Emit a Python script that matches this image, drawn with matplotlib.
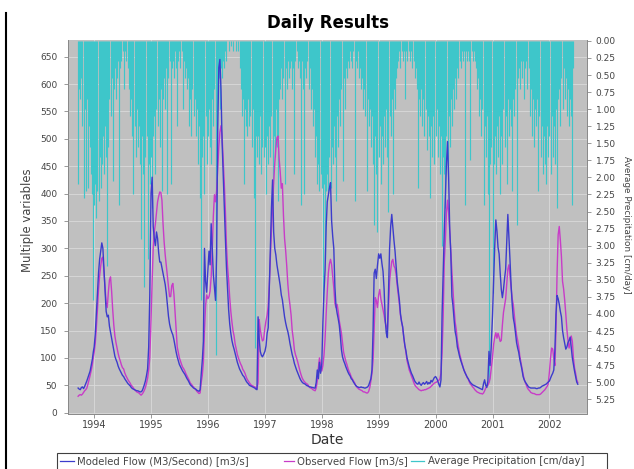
import numpy as np
import pandas as pd
import matplotlib
matplotlib.use("Agg")
import matplotlib.pyplot as plt
import matplotlib.dates as mdates
from matplotlib.lines import Line2D
from matplotlib.patches import Rectangle

# ---------------------------------------------------------------
# Weekly values, one list per calendar year (first list starts in
# late September 1993, the others on 1 January).
# ---------------------------------------------------------------
years = [1993, 1994, 1995, 1996, 1997, 1998, 1999, 2000, 2001, 2002]
year_start = {1993: "1993-09-20"}

modeled_1993 = [45, 43, 42, 46, 47, 44, 48, 53, 58, 64, 70, 76, 86, 97, 112]
observed_1993 = [30, 32, 33, 32, 34, 37, 40, 42, 45, 52, 60, 68, 77, 87, 102]
precip_1993 = [2.1, 0.7, 0.85, 0.55, 1.25, 2.3, 1.0, 2.2, 0.85, 2.15, 1.25, 1.55, 1.95, 2.25, 3.8]

modeled_1994 = [120, 143, 180, 215, 255, 280, 295, 310, 300, 262, 224, 185, 175, 178, 158, 147, 136, 125,
                114, 103, 97, 92, 85, 80, 76, 72, 68, 66, 62, 59, 56, 53, 51, 49, 46, 44, 43, 42, 41, 40,
                40, 39, 38, 38, 40, 45, 51, 58, 68, 80, 120, 215]
observed_1994 = [110, 127, 155, 188, 225, 250, 268, 282, 284, 255, 228, 200, 192, 220, 242, 248, 222, 188,
                 160, 140, 128, 118, 108, 100, 94, 87, 82, 80, 73, 68, 64, 60, 57, 54, 50, 48, 45, 42, 40,
                 38, 37, 36, 34, 32, 34, 37, 41, 46, 54, 63, 78, 100]
precip_1994 = [2.4, 2.1, 2.6, 2.2, 2.35, 1.7, 2.15, 1.8, 1.4, 1.95, 1.25, 1.7, 3.3, 1.55, 0.85, 1.1, 0.55,
               2.05, 0.7, 0.4, 0.85, 0.55, 0.3, 2.4, 0.4, 0.3, 0.15, 0.7, 0.15, 0.3, 0.0, 0.4, 0.7, 1.1,
               0.85, 1.4, 2.25, 1.25, 1.7, 1.0, 1.55, 1.25, 1.8, 2.9, 1.4, 1.95, 3.6, 1.7, 1.4, 3.2, 1.8, 2.1]

modeled_1995 = [400, 430, 340, 318, 305, 330, 318, 292, 275, 275, 265, 256, 246, 234, 218, 196, 176, 162,
                153, 147, 142, 133, 122, 111, 102, 95, 88, 84, 80, 76, 73, 70, 66, 62, 59, 55, 51, 49, 47,
                45, 44, 43, 41, 40, 39, 42, 70, 95, 130, 300, 240, 220]
observed_1995 = [170, 240, 300, 330, 345, 365, 385, 395, 403, 402, 388, 345, 312, 288, 268, 247, 230, 212,
                 212, 232, 236, 216, 186, 153, 120, 110, 100, 94, 88, 83, 80, 76, 71, 67, 63, 59, 54, 52,
                 49, 47, 44, 42, 39, 37, 35, 36, 55, 68, 92, 150, 195, 215]
precip_1995 = [1.7, 2.45, 1.4, 1.1, 1.95, 1.0, 1.25, 0.85, 1.55, 0.7, 2.2, 0.85, 0.55, 1.0, 0.4, 2.25, 0.55,
               0.3, 2.1, 0.4, 0.3, 0.55, 0.15, 0.4, 1.25, 0.3, 0.15, 0.4, 0.15, 1.0, 0.3, 0.55, 0.4, 0.7,
               0.55, 1.25, 0.85, 1.4, 0.7, 1.1, 0.85, 1.4, 1.0, 1.8, 1.25, 2.3, 3.8, 1.7, 1.4, 2.25, 1.1, 1.8]

modeled_1996 = [260, 295, 270, 345, 300, 252, 228, 205, 290, 520, 630, 645, 590, 495, 435, 380, 320, 266,
                225, 188, 162, 145, 132, 123, 116, 108, 100, 92, 86, 80, 76, 72, 68, 66, 62, 58, 55, 53,
                50, 49, 48, 47, 46, 45, 43, 42, 175, 135, 112, 105, 102, 106]
observed_1996 = [208, 212, 222, 248, 300, 360, 398, 385, 405, 445, 485, 512, 524, 505, 462, 420, 370, 306,
                 267, 242, 210, 185, 166, 150, 140, 125, 116, 106, 100, 94, 89, 85, 79, 76, 72, 66, 61,
                 58, 55, 52, 50, 49, 48, 47, 45, 44, 55, 170, 152, 140, 131, 133]
precip_1996 = [1.4, 1.0, 1.55, 1.8, 0.85, 1.25, 0.7, 4.6, 1.25, 0.85, 0.55, 1.0, 0.4, 0.55, 0.3, 0.4, 0.15,
               0.3, 0.0, 0.15, 0.0, 0.08, 0.0, 0.15, 0.0, 0.0, 0.15, 0.0, 0.15, 0.4, 0.7, 1.1, 0.85, 2.1,
               1.0, 1.25, 1.4, 0.85, 1.25, 1.1, 1.55, 1.0, 2.3, 4.5, 1.4, 1.7, 1.4, 1.8, 1.1, 1.95, 1.55, 1.7]

modeled_1997 = [112, 122, 145, 155, 230, 310, 375, 425, 330, 300, 288, 270, 258, 245, 232, 215, 206, 190,
                175, 164, 155, 148, 138, 126, 116, 106, 99, 90, 84, 78, 73, 68, 63, 59, 56, 54, 53, 52,
                50, 49, 48, 47, 47, 46, 46, 45, 45, 55, 78, 62, 92, 72]
observed_1997 = [155, 168, 178, 195, 232, 285, 335, 375, 420, 455, 482, 502, 505, 465, 440, 410, 418, 360,
                 318, 296, 268, 235, 212, 196, 178, 150, 135, 115, 106, 100, 93, 85, 77, 70, 64, 60, 57,
                 55, 53, 52, 49, 46, 45, 44, 42, 41, 40, 45, 58, 82, 100, 88]
precip_1997 = [1.55, 2.25, 1.4, 1.8, 1.25, 1.7, 1.1, 2.1, 1.4, 1.7, 1.0, 1.55, 2.35, 0.85, 0.7, 0.4, 0.85,
               0.55, 2.1, 0.4, 0.7, 0.3, 0.55, 0.4, 0.3, 0.7, 0.4, 1.95, 0.3, 0.15, 0.4, 0.3, 0.55, 2.4,
               0.3, 0.7, 2.25, 0.4, 0.55, 0.3, 0.7, 0.4, 1.0, 0.7, 1.25, 1.0, 1.7, 1.4, 2.1, 1.8, 2.2, 1.95]

modeled_1998 = [90, 165, 220, 260, 340, 385, 398, 410, 420, 350, 322, 300, 230, 195, 182, 172, 160, 140,
                115, 102, 95, 90, 84, 79, 74, 70, 67, 62, 60, 56, 53, 50, 48, 47, 46, 46, 47, 46, 46, 45,
                45, 46, 47, 50, 56, 62, 78, 150, 255, 262, 245, 268]
observed_1998 = [76, 86, 105, 135, 180, 220, 255, 272, 280, 270, 250, 228, 200, 192, 198, 186, 168, 157,
                 145, 127, 110, 102, 94, 88, 81, 75, 71, 65, 62, 58, 55, 50, 47, 45, 43, 42, 41, 40, 38,
                 38, 37, 36, 36, 39, 46, 58, 72, 95, 150, 210, 205, 192]
precip_1998 = [2.15, 3.8, 2.1, 3.2, 2.2, 1.95, 2.2, 1.7, 2.15, 1.55, 1.8, 1.25, 1.7, 2.35, 1.1, 1.55, 0.85,
               1.25, 0.7, 2.05, 0.55, 1.0, 0.4, 0.55, 0.3, 0.4, 0.15, 0.3, 0.4, 0.15, 2.35, 0.3, 0.4, 0.15,
               0.55, 0.4, 0.7, 0.55, 1.0, 0.7, 1.1, 2.2, 0.85, 1.25, 1.0, 1.55, 1.1, 1.8, 2.7, 1.4, 1.95, 2.8]

modeled_1999 = [290, 282, 290, 272, 258, 225, 170, 145, 137, 215, 300, 340, 362, 338, 315, 295, 268, 240,
                222, 205, 180, 166, 157, 138, 123, 113, 100, 92, 84, 78, 72, 68, 63, 58, 55, 53, 52, 56,
                52, 50, 53, 55, 52, 54, 57, 52, 55, 53, 59, 56, 60, 64]
observed_1999 = [215, 225, 208, 198, 188, 178, 165, 157, 152, 190, 240, 260, 276, 280, 268, 264, 252, 232,
                 215, 198, 178, 166, 155, 138, 122, 110, 95, 87, 78, 73, 67, 62, 56, 51, 48, 46, 44, 42,
                 41, 40, 41, 41, 42, 42, 43, 44, 45, 46, 48, 50, 52, 54]
precip_1999 = [1.7, 1.25, 2.1, 1.4, 1.8, 1.1, 1.55, 1.0, 1.7, 2.5, 1.1, 1.4, 0.85, 2.25, 0.7, 1.0, 0.55,
               0.4, 0.3, 0.15, 0.4, 0.15, 0.3, 0.15, 0.85, 0.15, 0.3, 0.0, 0.15, 0.3, 0.15, 0.4, 0.3, 0.55,
               0.4, 0.7, 2.15, 0.85, 1.1, 0.7, 1.25, 0.85, 1.4, 1.0, 1.6, 1.1, 1.4, 2.3, 1.25, 1.7, 1.1, 1.8]

modeled_2000 = [66, 63, 58, 52, 47, 60, 180, 255, 330, 390, 455, 495, 430, 335, 290, 212, 195, 170, 148,
                138, 120, 112, 103, 96, 90, 84, 78, 73, 69, 65, 62, 58, 55, 53, 51, 50, 49, 48, 47, 46,
                45, 44, 43, 42, 53, 60, 50, 46, 58, 112, 86, 118]
observed_2000 = [55, 56, 58, 59, 62, 72, 110, 175, 275, 315, 365, 388, 365, 332, 295, 258, 225, 190, 165,
                 152, 132, 120, 108, 100, 92, 85, 78, 74, 69, 64, 61, 56, 52, 50, 47, 45, 42, 40, 38, 37,
                 36, 35, 35, 34, 36, 40, 45, 48, 50, 55, 62, 80]
precip_2000 = [1.4, 1.0, 1.7, 1.25, 1.95, 1.4, 3.0, 1.7, 1.95, 2.45, 1.4, 1.95, 1.1, 1.55, 0.85, 1.25, 0.7,
               1.0, 0.55, 0.85, 0.4, 0.55, 0.3, 0.4, 0.15, 0.3, 0.15, 2.4, 0.15, 0.3, 0.15, 0.3, 1.75, 0.15,
               0.3, 0.15, 0.3, 0.4, 0.7, 0.55, 1.1, 0.85, 1.4, 1.0, 2.4, 1.25, 1.7, 1.1, 2.25, 5.0, 1.8, 1.55]

modeled_2001 = [180, 245, 305, 352, 332, 302, 290, 255, 225, 210, 225, 245, 262, 310, 362, 322, 278, 232,
                198, 173, 162, 146, 128, 118, 110, 97, 88, 78, 66, 60, 56, 53, 50, 47, 46, 45, 45, 45, 45,
                45, 44, 44, 45, 45, 46, 48, 49, 50, 51, 52, 54, 56]
observed_2001 = [102, 125, 138, 146, 136, 145, 138, 130, 132, 160, 183, 196, 208, 235, 262, 270, 250, 228,
                 208, 197, 178, 158, 142, 132, 120, 103, 92, 82, 70, 61, 55, 50, 45, 42, 40, 37, 36, 35,
                 35, 34, 33, 33, 33, 33, 34, 36, 38, 40, 42, 45, 48, 52]
precip_2001 = [3.7, 1.8, 1.4, 1.95, 1.25, 1.7, 1.1, 2.25, 1.4, 1.8, 1.0, 1.55, 1.1, 2.1, 0.85, 1.4, 1.0,
               1.25, 2.2, 0.85, 1.1, 0.7, 2.7, 0.55, 0.4, 0.7, 0.3, 0.55, 0.3, 0.85, 0.4, 0.3, 0.7, 0.4,
               1.1, 0.7, 1.4, 0.85, 1.55, 1.0, 1.25, 0.85, 2.2, 1.1, 1.7, 1.25, 1.95, 1.4, 1.8, 2.1, 1.25, 1.7]

modeled_2002 = [58, 63, 68, 72, 78, 115, 180, 214, 208, 198, 185, 175, 150, 137, 126, 116, 120, 128, 132,
                138, 118, 100, 88, 76, 66, 56, 52]
observed_2002 = [75, 100, 118, 116, 100, 86, 150, 255, 325, 340, 315, 285, 240, 226, 205, 180, 152, 132,
                 118, 128, 140, 130, 100, 82, 72, 60, 55]
precip_2002 = [1.4, 1.95, 1.1, 1.7, 1.25, 1.8, 1.0, 2.45, 0.85, 0.7, 1.25, 0.55, 1.0, 0.4, 0.85, 0.55, 1.1,
               0.7, 1.25, 0.85, 1.1, 2.4, 0.4]

flow_ticks = list(range(0, 651, 50))
precip_ticks = [i * 0.25 for i in range(22)]

modeled_by_year = {1993: modeled_1993, 1994: modeled_1994, 1995: modeled_1995, 1996: modeled_1996,
                   1997: modeled_1997, 1998: modeled_1998, 1999: modeled_1999, 2000: modeled_2000,
                   2001: modeled_2001, 2002: modeled_2002}
observed_by_year = {1993: observed_1993, 1994: observed_1994, 1995: observed_1995, 1996: observed_1996,
                    1997: observed_1997, 1998: observed_1998, 1999: observed_1999, 2000: observed_2000,
                    2001: observed_2001, 2002: observed_2002}
precip_by_year = {1993: precip_1993, 1994: precip_1994, 1995: precip_1995, 1996: precip_1996,
                  1997: precip_1997, 1998: precip_1998, 1999: precip_1999, 2000: precip_2000,
                  2001: precip_2001, 2002: precip_2002}


def weekly_series(by_year):
    parts = []
    for y in years:
        vals = by_year[y]
        start = year_start.get(y, f"{y}-01-01")
        idx = pd.date_range(start, periods=len(vals), freq="7D")
        parts.append(pd.Series(vals, index=idx, dtype=float))
    return pd.concat(parts)


modeled = weekly_series(modeled_by_year)
observed = weekly_series(observed_by_year)
precip = weekly_series(precip_by_year)

# ---------------------------------------------------------------
BG = "#c0c0c0"
C_MOD = "#3c3ccc"
C_OBS = "#c83cc8"
C_PRE = "#3ec6ca"
TXT = "#454545"
AXC = "#888888"
GRID = "#dadada"

fig = plt.figure(figsize=(6.34, 4.69), dpi=100)
L, R, B, T = 68.3, 587.3, 413.5, 39.5
W, H = 634.0, 469.0
ax = fig.add_axes([L / W, 1 - B / H, (R - L) / W, (B - T) / H])
ax2 = ax.twinx()
ax.set_zorder(2)
ax2.set_zorder(1)
ax.patch.set_visible(False)
ax2.patch.set_visible(True)
ax2.set_facecolor(BG)

xmin, xmax = pd.Timestamp("1993-07-19"), pd.Timestamp("2002-09-01")
ax.set_xlim(xmin, xmax)
ax.set_ylim(-1.5, 681.4)
ax2.set_ylim(5.458, -0.02)

# grid drawn on the lower axes so the rainfall covers it
for v in flow_ticks:
    ax2.add_artist(Line2D([0, 1], [v, v], transform=ax.get_yaxis_transform(),
                          color=GRID, lw=0.6, zorder=0.5))
for y in range(1994, 2003):
    ax2.add_artist(Line2D([pd.Timestamp(f"{y}-01-01")] * 2, [0, 1], transform=ax2.get_xaxis_transform(),
                          color=GRID, lw=0.6, zorder=0.5))

# precipitation hanging from the top of the plot
ax2.vlines(precip.index, 0, precip.values, color=C_PRE, lw=0.85, zorder=1)

# streamflow
ax.plot(observed.index, observed.values, color=C_OBS, lw=1.0, zorder=3)
ax.plot(modeled.index, modeled.values, color=C_MOD, lw=1.0, zorder=4)

ax.xaxis.set_major_locator(mdates.YearLocator())
ax.xaxis.set_major_formatter(mdates.DateFormatter("%Y"))
ax.set_yticks(flow_ticks)
ax2.set_yticks(precip_ticks)
ax2.set_yticklabels([f"{v:.2f}" for v in precip_ticks])

ax.tick_params(axis="y", labelsize=6.5, labelcolor=TXT, color=AXC, length=3, width=0.6, pad=5)
ax.tick_params(axis="x", labelsize=7, labelcolor=TXT, color=AXC, length=3, width=0.6, pad=2)
ax2.tick_params(axis="y", labelsize=6.5, labelcolor=TXT, color=AXC, length=3, width=0.6, pad=3)

for s in ["top", "right"]:
    ax.spines[s].set_visible(False)
for s in ["top", "left", "bottom"]:
    ax2.spines[s].set_visible(False)
for sp in [ax.spines["left"], ax.spines["bottom"], ax2.spines["right"]]:
    sp.set_color(AXC)
    sp.set_linewidth(0.7)

# titles and axis labels
fig.text(328 / W, 1 - 23 / H, "Daily Results", fontsize=12, fontweight="bold",
         ha="center", va="center", color="black")
fig.text(28 / W, 1 - 220 / H, "Multiple variables", fontsize=8.4, rotation=90,
         ha="center", va="center", color=TXT)
fig.text(627 / W, 1 - 225 / H, "Average Precipitation [cm/day]", fontsize=6.4, rotation=-90,
         ha="center", va="center", color=TXT)
fig.text(327 / W, 1 - 440 / H, "Date", fontsize=10, ha="center", va="center", color="#333333")

# legend strip
fig.add_artist(Rectangle((57 / W, 1 - 473 / H), 550 / W, 20 / H, transform=fig.transFigure,
                         facecolor="white", edgecolor="#404040", lw=0.8))
ly = 1 - 461 / H
entries = [(60, 74, 77, "Modeled Flow (M3/Second) [m3/s]", C_MOD),
           (284, 294, 297, "Observed Flow [m3/s]", C_OBS),
           (411, 424, 428, "Average Precipitation [cm/day]", C_PRE)]
for x0, x1, xt, label, col in entries:
    fig.add_artist(Line2D([x0 / W, x1 / W], [ly, ly], transform=fig.transFigure, color=col, lw=0.9))
    fig.text(xt / W, ly, label, fontsize=7.3, ha="left", va="center", color=TXT)

# page edge on the left
fig.add_artist(Line2D([6 / W, 6 / W], [0, 1 - 13 / H], transform=fig.transFigure, color="black", lw=1.5))

fig.savefig("out.png", dpi=100, facecolor="white")
